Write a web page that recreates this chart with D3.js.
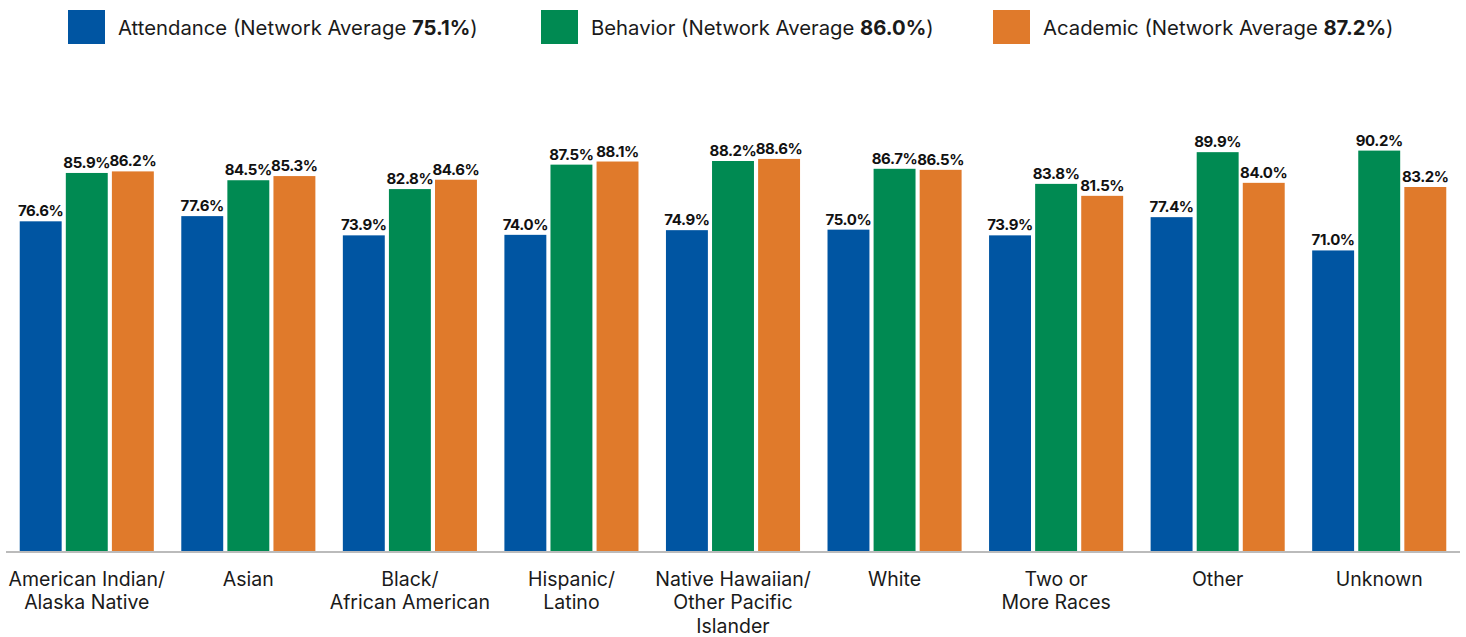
<!DOCTYPE html>
<html><head><meta charset="utf-8">
<script src="https://cdn.jsdelivr.net/npm/d3@7"></script>
<style>body{margin:0;background:#fff;}svg{display:block;font-family:Inter,"Noto Sans",sans-serif;}</style>
</head><body>
<svg id="c" width="1466" height="637"></svg>
<script>
const categories = [["American Indian/","Alaska Native"],["Asian"],["Black/","African American"],["Hispanic/","Latino"],["Native Hawaiian/","Other Pacific","Islander"],["White"],["Two or","More Races"],["Other"],["Unknown"]];
const seriesNames = ["Attendance","Behavior","Academic"];
const networkAverages = ["75.1%","86.0%","87.2%"];
const attendance = [76.6,77.6,73.9,74.0,74.9,75.0,73.9,77.4,71.0];
const behavior = [85.9,84.5,82.8,87.5,88.2,86.7,83.8,89.9,90.2];
const academic = [86.2,85.3,84.6,88.1,88.6,86.5,81.5,84.0,83.2];
const colors = ["#0055A2","#008A52","#E07A2B"];
const series = [attendance,behavior,academic];

const svg = d3.select("#c");
const base = 551;
const x0 = d3.scaleBand().domain(d3.range(categories.length)).range([6,1460]).paddingInner(0.17).paddingOuter(0.085);
const x1 = d3.scaleBand().domain(d3.range(3)).range([0,x0.bandwidth()]).paddingInner(0.09);
const y = d3.scaleLinear().domain([13.2,100]).range([base, base-86.8*5.2]);

const g = svg.append("g");
series.forEach((vals,si)=>{
  g.selectAll(null).data(vals).enter().append("rect")
   .attr("x",(d,i)=>x0(i)+x1(si)).attr("width",x1.bandwidth())
   .attr("y",d=>y(d)).attr("height",d=>base-y(d)).attr("fill",colors[si]);
  g.selectAll(null).data(vals).enter().append("text")
   .attr("x",(d,i)=>x0(i)+x1(si)+x1.bandwidth()/2).attr("y",d=>y(d)-5)
   .attr("text-anchor","middle").attr("font-size",15).attr("font-weight",700)
   .attr("letter-spacing","-0.4").attr("fill","#111")
   .text(d=>d.toFixed(1)+"%");
});
svg.append("line").attr("x1",6).attr("x2",1460).attr("y1",base+1).attr("y2",base+1).attr("stroke","#bbb").attr("stroke-width",2);

categories.forEach((lines,i)=>{
  const t = svg.append("text").attr("text-anchor","middle").attr("font-size",19.5).attr("fill","#1a1a1a");
  lines.forEach((l,j)=>t.append("tspan").attr("x",x0(i)+x0.bandwidth()/2).attr("y",585.5+j*23.5).text(l));
});

const legendX = [68,541,993];
seriesNames.forEach((n,i)=>{
  svg.append("rect").attr("x",legendX[i]).attr("y",10).attr("width",37).attr("height",34).attr("fill",colors[i]);
  const t = svg.append("text").attr("x",legendX[i]+50).attr("y",35).attr("font-size",20.3).attr("fill","#1a1a1a");
  t.append("tspan").text(n+" (Network Average ");
  t.append("tspan").attr("font-weight",700).text(networkAverages[i]);
  t.append("tspan").text(")");
});
</script>
</body></html>
